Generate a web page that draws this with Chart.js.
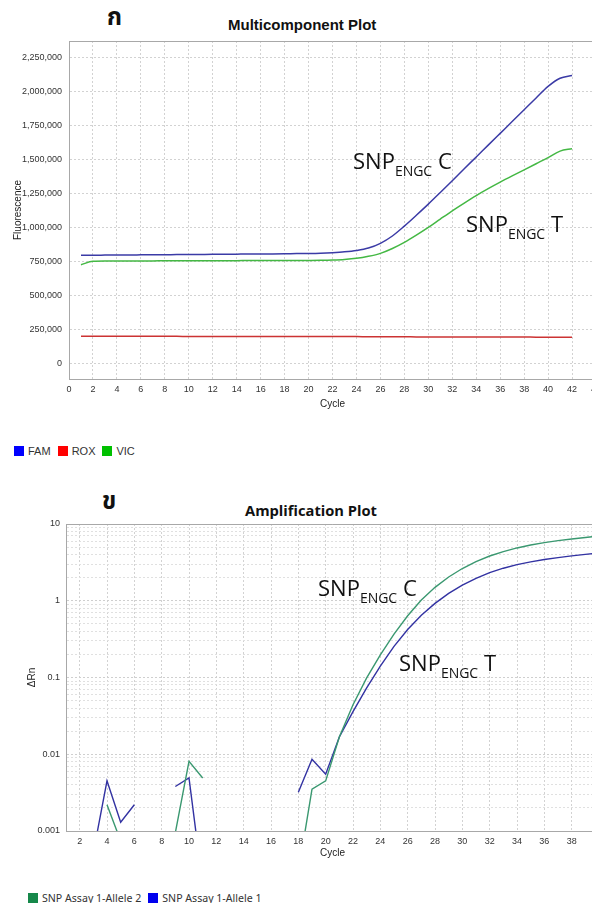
<!DOCTYPE html>
<html>
<head>
<meta charset="utf-8">
<script src="https://cdn.jsdelivr.net/npm/chart.js@4.4.1/dist/chart.umd.min.js"></script>
<style>
  html, body { margin: 0; padding: 0; background: #fff; }
  body { width: 592px; height: 903px; overflow: hidden; position: relative;
         font-family: "Liberation Sans", Arial, sans-serif; }
  .wrap { position: absolute; left: 0; }
  #wrapTop { top: 0; width: 620px; height: 420px; }
  #wrapBot { top: 470px; width: 620px; height: 400px; }
  .thai { position: absolute; font-family: "Noto Sans Thai", "Noto Sans", "DejaVu Sans", sans-serif;
          font-size: 24px; font-weight: bold; line-height: 1; color: #111; }
  .title { position: absolute; font-weight: bold; color: #111; line-height: 1; white-space: nowrap; }
  .ann { position: absolute; font-family: "Open Sans", "Noto Sans", sans-serif; font-size: 22px;
         line-height: 1; color: #111; white-space: nowrap; }
  .ann .sub { font-size: 14px; vertical-align: -7px; }
  .legend { position: absolute; display: flex; align-items: center; white-space: nowrap; color: #333; }
  .legend .sw { display: inline-block; width: 10px; height: 10px; margin-right: 4px; }
  .legend .it { display: inline-flex; align-items: center; margin-right: 7px; }
</style>
</head>
<body>
<div class="thai" style="left:107px; top:6px;">ก</div>
<div class="title" style="font-size:15px; left:228px; top:17px;">Multicomponent Plot</div>
<div class="wrap" id="wrapTop"><canvas id="multi"></canvas></div>
<div class="legend" id="legTop" style="left:14px; top:445px; font-size:11px;"></div>

<div class="thai" style="left:102px; top:490px;">ข</div>
<div class="title" style="font-family:'Open Sans','Noto Sans',sans-serif; font-size:14.7px; left:245px; top:503px;">Amplification Plot</div>
<div class="wrap" id="wrapBot"><canvas id="amp"></canvas></div>
<div class="legend" id="legBot" style="left:28px; top:891px; font-size:10.6px; font-family:'Noto Sans',sans-serif;"></div>

<div class="ann" style="left:353px; top:149px;">SNP<span class="sub">ENGC</span> C</div>
<div class="ann" style="left:466px; top:212px;">SNP<span class="sub">ENGC</span> T</div>
<div class="ann" style="left:318px; top:576px;">SNP<span class="sub">ENGC</span> C</div>
<div class="ann" style="left:399px; top:651px;">SNP<span class="sub">ENGC</span> T</div>

<script>
// ---- Multicomponent plot (fluorescence per cycle) ----
const cycles42 = [1,2,3,4,5,6,7,8,9,10,11,12,13,14,15,16,17,18,19,20,21,
                  22,23,24,25,26,27,28,29,30,31,32,33,34,35,36,37,38,39,40,41,42];
const famValues = [795000,795000,796000,797000,797000,798000,799000,799000,800000,800000,801000,
                   802000,802000,803000,804000,804000,805000,806000,807000,808000,810000,814000,
                   820000,830000,848000,883000,937000,1010000,1090000,1172000,1258000,1345000,
                   1433000,1520000,1607000,1694000,1781000,1868000,1955000,2040000,2100000,2120000];
const roxValues = [197000,197000,197000,197000,197000,197000,197000,197000,197000,196000,196000,
                   196000,196000,196000,196000,196000,196000,196000,195000,195000,195000,195000,
                   195000,195000,194000,194000,194000,194000,193000,193000,193000,193000,193000,
                   192000,192000,192000,192000,192000,191000,191000,191000,191000];
const vicValues = [725000,750000,752000,752000,753000,753000,753000,754000,754000,754000,755000,
                   755000,755000,755000,756000,756000,756000,757000,757000,757000,758000,760000,
                   764000,772000,787000,809000,845000,890000,943000,1000000,1062000,1123000,
                   1180000,1235000,1286000,1334000,1380000,1425000,1470000,1515000,1563000,1581000];
const multiXTicks = [0,2,4,6,8,10,12,14,16,18,20,22,24,26,28,30,32,34,36,38,40,42,44];
const multiYTicks = [0,250000,500000,750000,1000000,1250000,1500000,1750000,2000000,2250000];
const multiLabels = ['FAM', 'ROX', 'VIC'];
const multiLegendColors = ['#0000ff', '#ff0000', '#00c000'];
const multiLineColors = ['#3b3ba6', '#cc3333', '#44b844'];

// ---- Amplification plot (delta Rn, log) ----
const cycles40 = [1,2,3,4,5,6,7,8,9,10,11,12,13,14,15,16,17,18,19,20,
                  21,22,23,24,25,26,27,28,29,30,31,32,33,34,35,36,37,38,39,40];
const allele2Values = [null,null,null,0.0022,0.00074,null,null,null,0.00095,0.0081,0.0049,
                       null,null,null,null,null,null,0.00029,0.0035,0.0045,0.0168,0.0442,0.0989,
                       0.197,0.367,0.638,1.023,1.496,2.042,2.63,3.236,3.828,4.375,4.875,5.321,
                       5.715,6.067,6.383,6.683,6.982];
const allele1Values = [null,null,0.00052,0.0045,0.0013,0.0022,null,null,0.0038,0.0049,0.0002,
                       null,null,null,null,null,null,0.0032,0.0086,0.0055,0.0168,0.0359,0.0733,
                       0.141,0.254,0.422,0.646,0.923,1.245,1.596,1.963,2.323,2.655,2.951,3.214,
                       3.443,3.648,3.837,4.018,4.188];
const ampXTicks = [2,4,6,8,10,12,14,16,18,20,22,24,26,28,30,32,34,36,38,40];
const ampDecades = [0.001, 0.01, 0.1, 1, 10];
const ampMinorSteps = [1,2,3,4,5,6,7,8,9];
const ampLabels = ['SNP Assay 1-Allele 2', 'SNP Assay 1-Allele 1'];
const ampLegendColors = ['#16884a', '#0000ee'];
const ampLineColors = ['#3a9870', '#3232a2'];

const tickFont = { family: '"Liberation Sans", Arial, sans-serif', size: 9 };
const titleFont = { family: '"Liberation Sans", Arial, sans-serif', size: 10 };
const GRID = '#d2d2d2';
const AXIS = '#a8a8a8';

function pts(xs, ys) { return xs.map((x, i) => ({ x: x, y: ys[i] })); }

// thin frame line across the top of the plot area
const topFrame = {
  id: 'topFrame',
  afterDraw(chart) {
    const a = chart.chartArea, ctx = chart.ctx;
    ctx.save();
    ctx.strokeStyle = AXIS; ctx.lineWidth = 1;
    ctx.beginPath(); ctx.moveTo(a.left, a.top + 0.5); ctx.lineTo(a.right, a.top + 0.5); ctx.stroke();
    ctx.restore();
  }
};

function lineSet(label, data, color, width, smooth) {
  const ds = { label, data, borderColor: color, backgroundColor: color, borderWidth: width,
               pointRadius: 0, tension: 0, spanGaps: false, fill: false };
  if (smooth) ds.cubicInterpolationMode = 'monotone';
  return ds;
}

Chart.defaults.animation = false;

new Chart(document.getElementById('multi'), {
  type: 'line',
  data: {
    datasets: [
      lineSet(multiLabels[0], pts(cycles42, famValues), multiLineColors[0], 1.5, true),
      lineSet(multiLabels[1], pts(cycles42, roxValues), multiLineColors[1], 1.5, true),
      lineSet(multiLabels[2], pts(cycles42, vicValues), multiLineColors[2], 1.5, true),
    ]
  },
  options: {
    responsive: true, maintainAspectRatio: false,
    layout: { padding: { top: 41, left: 0, right: 24, bottom: 0 } },
    plugins: { legend: { display: false }, tooltip: { enabled: false } },
    scales: {
      x: {
        type: 'linear', min: 0, max: 44,
        afterBuildTicks: (s) => { s.ticks = multiXTicks.map(v => ({ value: v })); },
        afterFit: (s) => { s.height = 41; },
        grid: { color: GRID, drawTicks: false },
        border: { color: AXIS, dash: [2, 2] },
        ticks: { font: tickFont, color: '#333', padding: 5, autoSkip: false, maxRotation: 0 },
        title: { display: true, text: 'Cycle', font: titleFont, color: '#222', padding: { top: 10, bottom: 10 } },
      },
      y: {
        type: 'linear', min: -117647, max: 2375000,
        afterBuildTicks: (s) => { s.ticks = multiYTicks.map(v => ({ value: v })); },
        afterFit: (s) => { s.width = 69; },
        grid: { color: GRID, drawTicks: false },
        border: { color: AXIS, dash: [2, 2] },
        ticks: { font: tickFont, color: '#333', padding: 7,
                 callback: (v) => v.toLocaleString('en-US') },
        title: { display: true, text: 'Fluorescence', font: titleFont, color: '#222', padding: { top: 12, bottom: 12 } },
      },
    },
  },
  plugins: [topFrame],
});

const ampYTicks = [];
ampDecades.forEach((d) => ampMinorSteps.forEach((m) => {
  const v = +(d * m).toPrecision(3);
  if (v <= 10) ampYTicks.push(v);
}));
const isDecade = (v) => ampDecades.includes(v);

new Chart(document.getElementById('amp'), {
  type: 'line',
  data: {
    datasets: [
      lineSet(ampLabels[0], pts(cycles40, allele2Values), ampLineColors[0], 1.4, false),
      lineSet(ampLabels[1], pts(cycles40, allele1Values), ampLineColors[1], 1.4, false),
    ]
  },
  options: {
    responsive: true, maintainAspectRatio: false,
    layout: { padding: { top: 54, left: 0, right: 21, bottom: 0 } },
    plugins: { legend: { display: false }, tooltip: { enabled: false } },
    scales: {
      x: {
        type: 'linear', min: 1, max: 40,
        afterBuildTicks: (s) => { s.ticks = ampXTicks.map(v => ({ value: v })); },
        afterFit: (s) => { s.height = 39; },
        grid: { color: GRID, drawTicks: false },
        border: { color: AXIS, dash: [2, 2] },
        ticks: { font: tickFont, color: '#333', padding: 5, autoSkip: false, maxRotation: 0 },
        title: { display: true, text: 'Cycle', font: titleFont, color: '#222', padding: { top: 11, bottom: 11 } },
      },
      y: {
        type: 'logarithmic', min: 0.001, max: 10,
        afterBuildTicks: (s) => { s.ticks = ampYTicks.map(v => ({ value: v, major: isDecade(v) })); },
        afterFit: (s) => { s.width = 66; },
        grid: { color: (c) => (c.tick && isDecade(c.tick.value)) ? '#cfcfcf' : '#e0e0e0', drawTicks: false },
        border: { color: AXIS, dash: [2, 2] },
        ticks: { font: tickFont, color: '#333', padding: 6, autoSkip: false,
                 callback: (v) => isDecade(v) ? String(v) : '' },
        title: { display: true, text: 'ΔRn', font: titleFont, color: '#222', padding: { top: 26, bottom: 26 } },
      },
    },
  },
  plugins: [topFrame],
});

function buildLegend(id, labels, colors) {
  const el = document.getElementById(id);
  labels.forEach((l, i) => {
    const it = document.createElement('span');
    it.className = 'it';
    it.innerHTML = '<span class="sw" style="background:' + colors[i] + '"></span>' + l;
    el.appendChild(it);
  });
}
buildLegend('legTop', multiLabels, multiLegendColors);
buildLegend('legBot', ampLabels, ampLegendColors);
</script>
</body>
</html>
